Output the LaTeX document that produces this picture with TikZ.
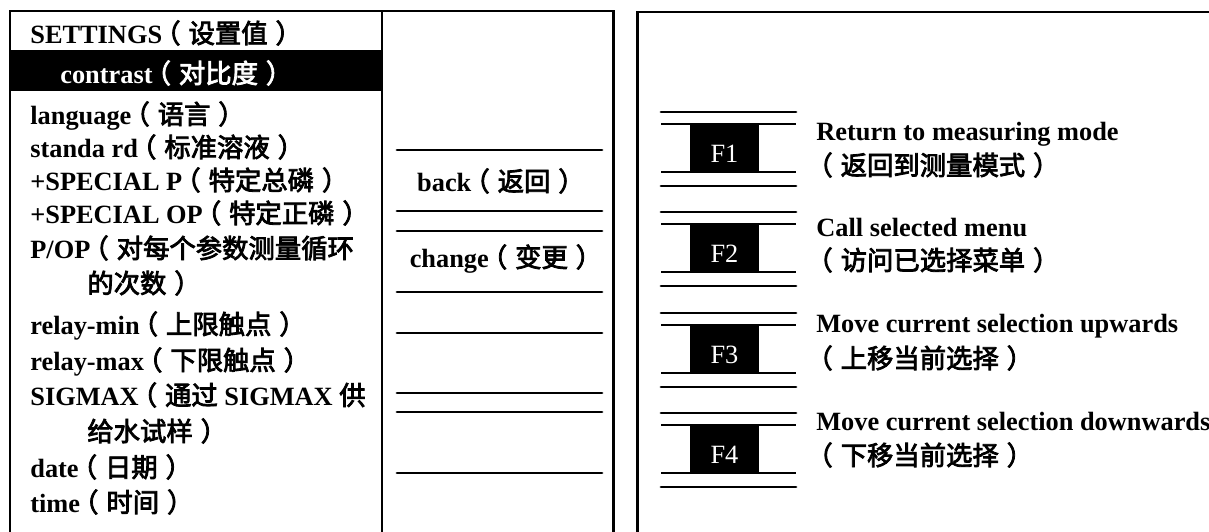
\documentclass[tikz,border=0pt]{standalone}
\usepackage{fontspec}
\setmainfont{Liberation Serif}
\newfontfamily\cjk{Noto Sans CJK SC}[BoldFont={Noto Sans CJK SC}, BoldFeatures={FakeBold=3}]
\newcommand{\zh}[1]{{\cjk #1}}
\newcommand{\lp}{\kern-0.3em（\kern0.3em}
\newcommand{\rp}{\kern0.3em）\kern-0.3em}

\begin{document}
\begin{tikzpicture}[
  x=0.02cm, y=-0.02cm,
  every node/.style={inner sep=0pt, font=\fontsize{15}{19}\selectfont\bfseries},
  entry/.style={anchor=base west},
  frame/.style={line width=1.7pt},
  rule/.style={line width=1.6pt, line cap=round},
  thinrule/.style={line width=0.8pt},
  fkey/.style={
    fill=black, text=white,
    font=\fontsize{15}{19}\selectfont,
    minimum width=1.38cm, minimum height=0.98cm,
    text height=0.58cm, text depth=0pt
  }
]
\useasboundingbox (0,0) rectangle (1209,531);
\clip (0,0) rectangle (1209,531);

% settings list
\draw[frame] (10,600) |- (613,11) -- (613,600);
\draw[line width=1.2pt] (382,11) -- (382,600);
\fill (10,50) rectangle (382,91);

\node[entry] (settings) at (30,43) {SETTINGS\zh{\lp 设置值\rp}};
\node[entry, text=white] (contrast) at (60,83) {contrast\zh{\lp 对比度\rp}};
\node[entry] (language) at (30,124) {language\zh{\lp 语言\rp}};
\node[entry] (standard) at (30,157) {standa rd\zh{\lp 标准溶液\rp}};
\node[entry] (specp) at (30,190) {+SPECIAL P\zh{\lp 特定总磷\rp}};
\node[entry] (specop) at (30,223) {+SPECIAL OP\zh{\lp 特定正磷\rp}};
\node[entry] (pop) at (30,258) {P/OP\zh{\lp 对每个参数测量循环}};
\node[entry] (popb) at (87,293) {\zh{的次数\rp}};
\node[entry] (relaymin) at (30,334) {relay-min\zh{\lp 上限触点\rp}};
\node[entry] (relaymax) at (30,370) {relay-max\zh{\lp 下限触点\rp}};
\node[entry] (sigmax) at (30,405) {SIGMAX\zh{\lp 通过} SIGMAX \zh{供}};
\node[entry] (sigmaxb) at (87,441) {\zh{给水试样\rp}};
\node[entry] (date) at (30,477) {date\zh{\lp 日期\rp}};
\node[entry] (time) at (30,512) {time\zh{\lp 时间\rp}};

% soft keys
\foreach \y in {150,211,231,292,333,393,412,473}
  \draw[rule] (397,\y) -- (602,\y);
\node[anchor=base] (back) at (497,191) {back\zh{\lp 返回\rp}};
\node[anchor=base] (change) at (502,267) {change\zh{\lp 变更\rp}};

% function keys
\draw[frame] (637,600) |- (1260,12);
\foreach \t/\k in {112/1,212/2,313/3,413/4}{
  \draw[rule] (661,\t) -- (796,\t);
  \draw[rule] (661,\t+74) -- (796,\t+74);
  \draw[thinrule] (661,\t+12) -- (796,\t+12);
  \draw[thinrule] (661,\t+60) -- (796,\t+60);
  \node[fkey] (f\k) at (724.5,\t+35.5) {F\k};
}

\node[entry] (ret) at (816,140) {Return to measuring mode};
\node[entry] (retzh) at (814,175) {\zh{\lp 返回到测量模式\rp}};
\node[entry] (call) at (816,236) {Call selected menu};
\node[entry] (callzh) at (814,270) {\zh{\lp 访问已选择菜单\rp}};
\node[entry] (up) at (816,332) {Move current selection upwards};
\node[entry] (upzh) at (814,368) {\zh{\lp 上移当前选择\rp}};
\node[entry] (down) at (816,430) {Move current selection downwards};
\node[entry] (downzh) at (814,465) {\zh{\lp 下移当前选择\rp}};
\end{tikzpicture}
\end{document}
